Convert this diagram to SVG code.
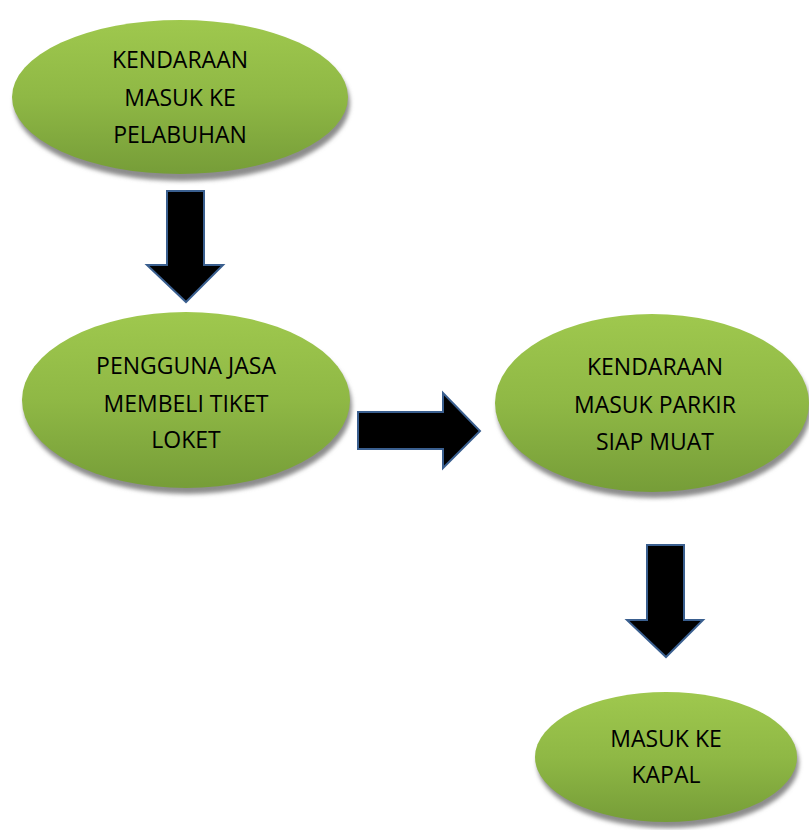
<svg xmlns="http://www.w3.org/2000/svg" width="809" height="830" viewBox="0 0 809 830">
<defs>
<linearGradient id="g" x1="0" y1="0" x2="0" y2="1">
<stop offset="0" stop-color="#9fc84e"/>
<stop offset="0.5" stop-color="#8fb845"/>
<stop offset="1" stop-color="#769d38"/>
</linearGradient>
<filter id="sh" x="-10%" y="-10%" width="120%" height="130%">
<feGaussianBlur stdDeviation="2"/>
</filter>
</defs>
<style>
.node text{font-family:"Open Sans","Liberation Sans",sans-serif;font-size:23px;fill:#000;text-anchor:middle}
.shadow{fill:#8c8c8c;filter:url(#sh)}
.body{fill:url(#g)}
.arr{fill:#000;stroke:#3a5f8f;stroke-width:2;stroke-linejoin:miter}
</style>
<rect width="809" height="830" fill="#fff"/>
<g id="n1" class="node">
<ellipse class="shadow" cx="182" cy="103" rx="168" ry="78"/>
<ellipse class="body" cx="180" cy="97" rx="168" ry="77"/>
<text x="180" y="68">KENDARAAN</text>
<text x="180" y="106">MASUK KE</text>
<text x="180" y="143">PELABUHAN</text>
</g>
<g id="n2" class="node">
<ellipse class="shadow" cx="188" cy="406" rx="164" ry="88"/>
<ellipse class="body" cx="186" cy="400" rx="164" ry="88"/>
<text x="186" y="374">PENGGUNA JASA</text>
<text x="186" y="412">MEMBELI TIKET</text>
<text x="186" y="448">LOKET</text>
</g>
<g id="n3" class="node">
<ellipse class="shadow" cx="654" cy="409" rx="157" ry="89"/>
<ellipse class="body" cx="652" cy="403" rx="157" ry="89"/>
<text x="655" y="375">KENDARAAN</text>
<text x="655" y="413">MASUK PARKIR</text>
<text x="655" y="450">SIAP MUAT</text>
</g>
<g id="n4" class="node">
<ellipse class="shadow" cx="668" cy="763" rx="131" ry="65"/>
<ellipse class="body" cx="666" cy="757" rx="131" ry="65"/>
<text x="666" y="747">MASUK KE</text>
<text x="666" y="783">KAPAL</text>
</g>
<g id="connectors">
<path class="arr" d="M167 191 H204 V265 H223 L186 302 L147 265 H167 Z"/>
<path class="arr" d="M358 412 H443 V393 L480 431 L443 468 V449 H358 Z"/>
<path class="arr" d="M647 545 H684 V620 H703 L666 657 L627 620 H647 Z"/>
</g>
</svg>
